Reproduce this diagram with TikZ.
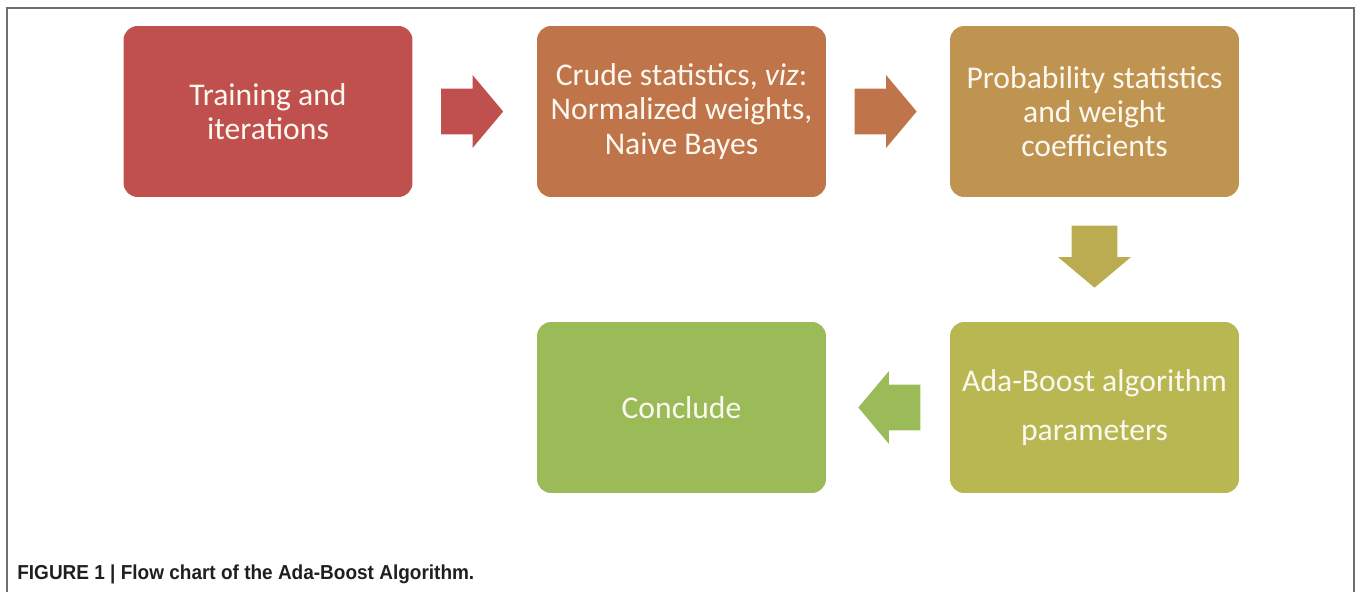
\documentclass[tikz,border=0pt]{standalone}
\usepackage{fontspec}
\setmainfont{Carlito}
\newfontfamily\capfont[FakeStretch=0.94]{Liberation Sans}
\usetikzlibrary{shapes.arrows,calc}
\definecolor{trainred}{RGB}{192,80,77}
\definecolor{crudeorange}{RGB}{191,116,74}
\definecolor{probgold}{RGB}{190,148,80}
\definecolor{adaolive}{RGB}{184,183,82}
\definecolor{downolive}{RGB}{187,172,82}
\definecolor{concgreen}{RGB}{155,187,89}
\definecolor{boxtext}{RGB}{252,248,240}
\definecolor{framegray}{RGB}{110,110,110}

\begin{document}
\begin{tikzpicture}[x=0.02cm,y=-0.02cm,
  stepbox/.style={rounded corners=0.28cm, minimum width=5.78cm, minimum height=3.42cm,
    inner sep=0pt, align=center, text=boxtext, font=\fontsize{18}{19.5}\selectfont},
  bigarrow/.style={single arrow, minimum height=1.24cm, inner xsep=0pt, inner ysep=0.45cm,
    single arrow head extend=0.27cm, single arrow tip angle=100, anchor=tail}]
  \useasboundingbox (0,0) rectangle (1358,592);
  \draw[framegray, line width=0.8pt] (7,592) -- (7,8) -- (1354,8) -- (1354,592);

  % the five steps
  \node[stepbox, fill=trainred] (train) at (268,111.5) {Training and\\iterations};
  \node[stepbox, fill=crudeorange] (crude) at (681.5,111.5) {Crude statistics, \textit{viz}:\\Normalized weights,\\Naive Bayes};
  \node[stepbox, fill=probgold] (prob) at (1094.5,111.5) {Probability statistics\\and weight\\coefficients};
  \node[stepbox, fill=adaolive, font=\fontsize{18}{28}\selectfont] (ada) at (1094.5,407.5) {Ada-Boost algorithm\\parameters};
  \node[stepbox, fill=concgreen] (conc) at (681.5,407.5) {Conclude};

  % block arrows between them
  \node[bigarrow, fill=trainred] (a1) at ($(train.east)+(28,0)$) {};
  \node[bigarrow, fill=crudeorange] (a2) at ($(crude.east)+(28,0)$) {};
  \node[bigarrow, fill=downolive, rotate=-90] (a3) at ($(prob.south)+(0,28)$) {};
  \node[bigarrow, fill=concgreen, rotate=180] (a4) at ($(ada.west)+(-29,0)$) {};

  \node[anchor=base west, inner sep=0pt, text=black!88, font=\capfont\bfseries\fontsize{11.5}{13}\selectfont] (cap) at (17,579)
    {FIGURE 1 | Flow chart of the Ada-Boost Algorithm.};
\end{tikzpicture}
\end{document}
